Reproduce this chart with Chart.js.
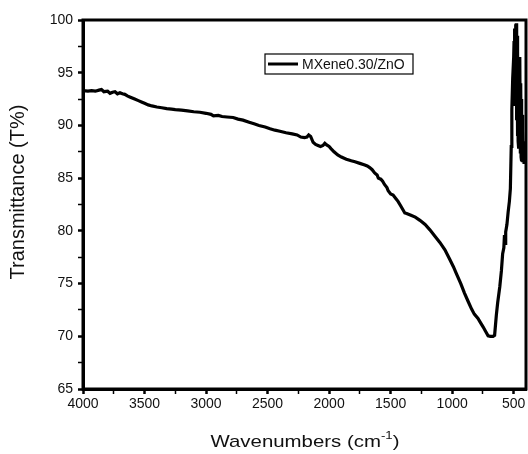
<!DOCTYPE html>
<html>
<head>
<meta charset="utf-8">
<script src="https://cdn.jsdelivr.net/npm/chart.js@4"></script>
<style>
  html, body { margin: 0; padding: 0; background: #fff; }
  canvas { display: block; }
</style>
</head>
<body>
<canvas id="ftir" width="528" height="454"></canvas>
<script>
const seriesLabel = 'MXene0.30/ZnO'

const wavenumbers = [
    4000, 3960, 3930, 3900, 3870, 3850, 3830, 3800, 3780, 3760, 3740, 3720, 3700, 3680, 3660, 3640,
    3620, 3600, 3580, 3550, 3520, 3500, 3470, 3440, 3400, 3360, 3320, 3280, 3250, 3200, 3150, 3100,
    3050, 3000, 2960, 2940, 2900, 2870, 2830, 2780, 2740, 2700, 2650, 2610, 2570, 2520, 2480, 2440,
    2400, 2350, 2300, 2260, 2230, 2200, 2180, 2166, 2150, 2130, 2110, 2090, 2070, 2050, 2035, 2020,
    2000, 1985, 1960, 1930, 1900, 1860, 1820, 1790, 1750, 1710, 1690, 1670, 1650, 1630, 1610, 1600,
    1580, 1565, 1550, 1530, 1520, 1500, 1480, 1460, 1440, 1420, 1400, 1385, 1370, 1340, 1300, 1262,
    1220, 1181, 1140, 1100, 1059, 1020, 990, 964, 930, 900, 870, 843, 820, 790, 770, 749,
    730, 708, 690, 668, 655, 641, 630, 613, 600, 590, 580, 575, 570, 565, 555, 545,
    535, 527, 520, 515, 508, 500, 497, 494, 491, 488, 485, 482, 479, 476, 473, 470,
    467, 464, 461, 458, 455, 452, 449, 446, 443, 440, 437, 434, 431, 428, 425, 422,
    419, 416, 413, 410, 406, 402,
]

const transmittance = [
    93.3, 93.25, 93.3, 93.25, 93.35, 93.4, 93.2, 93.25, 93.05, 93.15, 93.2, 93.0, 93.1, 93.0, 92.95, 92.8,
    92.7, 92.6, 92.5, 92.35, 92.2, 92.1, 91.95, 91.85, 91.75, 91.68, 91.6, 91.55, 91.5, 91.45, 91.38, 91.3,
    91.25, 91.15, 91.05, 90.9, 90.95, 90.85, 90.8, 90.75, 90.6, 90.5, 90.3, 90.15, 90.0, 89.85, 89.68, 89.55,
    89.45, 89.3, 89.2, 89.1, 88.9, 88.85, 88.9, 89.1, 88.95, 88.4, 88.2, 88.1, 88.0, 88.1, 88.3, 88.15,
    88.0, 87.8, 87.5, 87.2, 87.0, 86.8, 86.65, 86.55, 86.4, 86.25, 86.15, 86.0, 85.8, 85.5, 85.3, 85.0,
    84.9, 84.7, 84.4, 84.1, 83.8, 83.5, 83.4, 83.1, 82.8, 82.4, 82.0, 81.7, 81.65, 81.5, 81.3, 81.0,
    80.6, 80.1, 79.5, 78.9, 78.2, 77.3, 76.6, 75.9, 75.0, 74.1, 73.3, 72.6, 72.1, 71.7, 71.3, 70.9,
    70.5, 70.05, 70.0, 70.0, 70.1, 72.0, 73.2, 74.7, 76.2, 77.8, 78.4, 79.6, 78.8, 79.9, 80.6, 81.8,
    82.8, 84.0, 88.0, 91.5, 94.5, 96.5, 98.0, 93.5, 99.2, 92.0, 99.6, 94.5, 99.7, 90.5, 98.5, 89.0,
    97.0, 88.5, 96.0, 87.8, 95.0, 88.5, 96.5, 87.5, 94.0, 87.0, 92.5, 86.6, 91.0, 86.5, 89.5, 86.8,
    88.5, 86.5, 88.0, 86.6, 87.5, 86.8,
]

const xTickValues = [4000, 3750, 3500, 3250, 3000, 2750, 2500, 2250, 2000, 1750, 1500, 1250, 1000, 750, 500]
const yTickValues = [65, 67.5, 70, 72.5, 75, 77.5, 80, 82.5, 85, 87.5, 90, 92.5, 95, 97.5, 100]

const xTitle = ['Wavenumbers (cm', '-1', ')']
const yTitle = 'Transmittance (T%)'

const fontFamily = '"Liberation Sans", Arial, Helvetica, sans-serif'

const frame = {
    id: 'frame',
    afterDraw: (chart) => {
        const {ctx, chartArea} = chart
        ctx.save()
        ctx.strokeStyle = '#000'
        ctx.lineWidth = 3
        ctx.strokeRect(chartArea.left, chartArea.top, chartArea.right - chartArea.left, chartArea.bottom - chartArea.top)

        // legend box inside the plot
        const lx = 265, ly = 54, lw = 148, lh = 20
        ctx.fillStyle = '#fff'
        ctx.fillRect(lx, ly, lw, lh)
        ctx.lineWidth = 1.2
        ctx.strokeRect(lx, ly, lw, lh)
        ctx.lineWidth = 3
        ctx.beginPath()
        ctx.moveTo(lx + 3, ly + lh / 2)
        ctx.lineTo(lx + 33, ly + lh / 2)
        ctx.stroke()
        ctx.fillStyle = '#111'
        ctx.font = `14px ${fontFamily}`
        ctx.textBaseline = 'middle'
        ctx.textAlign = 'left'
        ctx.fillText(chart.data.datasets[0].label, lx + 37, ly + lh / 2 + 1)

        // x title with superscript
        ctx.save()
        ctx.translate(305, 442)
        ctx.scale(1.2, 1)
        ctx.font = `17px ${fontFamily}`
        const w0 = ctx.measureText(xTitle[0]).width
        ctx.font = `11px ${fontFamily}`
        const w1 = ctx.measureText(xTitle[1]).width
        ctx.font = `17px ${fontFamily}`
        const w2 = ctx.measureText(xTitle[2]).width
        let x = -(w0 + w1 + w2) / 2
        ctx.textBaseline = 'middle'
        ctx.fillText(xTitle[0], x, 0)
        x += w0
        ctx.font = `11px ${fontFamily}`
        ctx.fillText(xTitle[1], x, -6)
        x += w1
        ctx.font = `17px ${fontFamily}`
        ctx.fillText(xTitle[2], x, 0)
        ctx.restore()

        // y title
        ctx.save()
        ctx.translate(18, 192)
        ctx.rotate(-Math.PI / 2)
        ctx.font = `20px ${fontFamily}`
        ctx.textAlign = 'center'
        ctx.textBaseline = 'middle'
        ctx.fillText(yTitle, 0, 0)
        ctx.restore()

        ctx.restore()
    }
}

const isMajor = (v, step) => Math.abs(v / step - Math.round(v / step)) < 1e-6

const initChart = () => {
    const ctx = document.getElementById('ftir').getContext('2d')
    return new Chart(ctx, {
        type: 'line',
        data: {
            datasets: [{
                label: seriesLabel,
                data: wavenumbers.map((w, i) => ({x: w, y: transmittance[i]})),
                borderColor: '#000',
                borderWidth: 3.2,
                pointRadius: 0,
                tension: 0,
                fill: false,
            }],
        },
        options: {
            responsive: false,
            animation: false,
            devicePixelRatio: 1,
            layout: {padding: {top: 20, right: 2, left: 0, bottom: 0}},
            plugins: {
                legend: {display: false},
                tooltip: {enabled: false},
            },
            scales: {
                x: {
                    type: 'linear',
                    reverse: true,
                    min: 400,
                    max: 4000,
                    afterBuildTicks: (scale) => {
                        scale.ticks = xTickValues.map(v => ({value: v}))
                    },
                    afterFit: (scale) => {
                        scale.height = 65
                    },
                    border: {display: true, color: '#000', width: 3},
                    grid: {
                        drawOnChartArea: false,
                        drawTicks: true,
                        tickLength: 5,
                        tickColor: '#000',
                        tickWidth: (c) => isMajor(c.tick.value, 500) ? 2.5 : 1.5,
                    },
                    ticks: {
                        autoSkip: false,
                        maxRotation: 0,
                        padding: 2,
                        color: '#111',
                        font: {family: fontFamily, size: 14},
                        callback: (v) => isMajor(v, 500) ? String(v) : '',
                    },
                },
                y: {
                    type: 'linear',
                    min: 65,
                    max: 100,
                    afterBuildTicks: (scale) => {
                        scale.ticks = yTickValues.map(v => ({value: v}))
                    },
                    afterFit: (scale) => {
                        scale.width = 83
                    },
                    border: {display: true, color: '#000', width: 3},
                    grid: {
                        drawOnChartArea: false,
                        drawTicks: true,
                        tickLength: 5,
                        tickColor: '#000',
                        tickWidth: (c) => isMajor(c.tick.value, 5) ? 2.5 : 1.5,
                    },
                    ticks: {
                        autoSkip: false,
                        padding: 5,
                        color: '#111',
                        font: {family: fontFamily, size: 14},
                        callback: (v) => isMajor(v, 5) ? String(v) : '',
                    },
                },
            },
        },
        plugins: [frame],
    })
}

initChart()
</script>
</body>
</html>
